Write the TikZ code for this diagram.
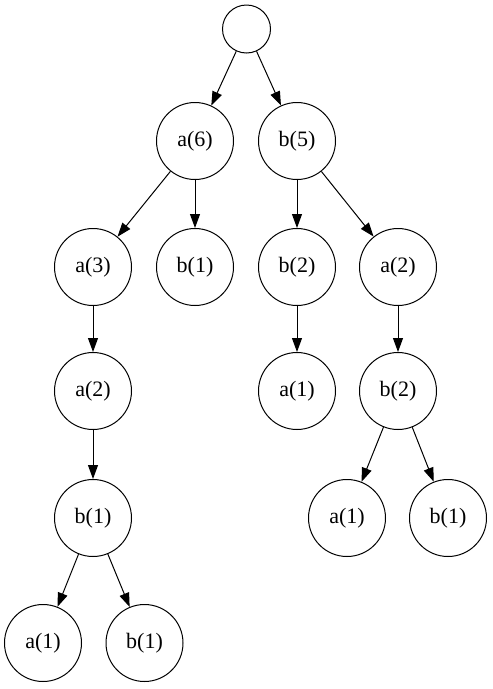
\documentclass[tikz,border=0pt]{standalone}
\usepackage{fontspec}
\setmainfont{Liberation Serif}
\usetikzlibrary{arrows.meta}
\begin{document}
\begin{tikzpicture}[x=1pt,y=-1pt,
  tn/.style={draw,circle,line width=1pt,minimum size=77pt,inner sep=0pt,font=\fontsize{22}{26}\selectfont},
  rt/.style={draw,circle,line width=1pt,minimum size=48pt,inner sep=0pt},
  ed/.style={line width=1pt,-{Triangle[length=14pt,width=10pt]}}]
\useasboundingbox (0,0) rectangle (493,689);
\node[rt] (r) at (246.5,29) {};
\node[tn] (a6) at (195,141) {a(6)};
\node[tn] (b5) at (297,141) {b(5)};
\node[tn] (a3) at (93,267) {a(3)};
\node[tn] (b1m) at (195,267) {b(1)};
\node[tn] (b2) at (297,267) {b(2)};
\node[tn] (a2r) at (398,267) {a(2)};
\node[tn] (a2l) at (93,391) {a(2)};
\node[tn] (a1m) at (297,391) {a(1)};
\node[tn] (b2r) at (398,391) {b(2)};
\node[tn] (b1l) at (93,518) {b(1)};
\node[tn] (a1r) at (347,518) {a(1)};
\node[tn] (b1r) at (448,518) {b(1)};
\node[tn] (a1l) at (43,643) {a(1)};
\node[tn] (b1ll) at (144.5,643) {b(1)};
\draw[ed] (r) -- (a6);
\draw[ed] (r) -- (b5);
\draw[ed] (a6) -- (a3);
\draw[ed] (a6) -- (b1m);
\draw[ed] (b5) -- (b2);
\draw[ed] (b5) -- (a2r);
\draw[ed] (a3) -- (a2l);
\draw[ed] (b2) -- (a1m);
\draw[ed] (a2r) -- (b2r);
\draw[ed] (a2l) -- (b1l);
\draw[ed] (b2r) -- (a1r);
\draw[ed] (b2r) -- (b1r);
\draw[ed] (b1l) -- (a1l);
\draw[ed] (b1l) -- (b1ll);
\end{tikzpicture}
\end{document}
